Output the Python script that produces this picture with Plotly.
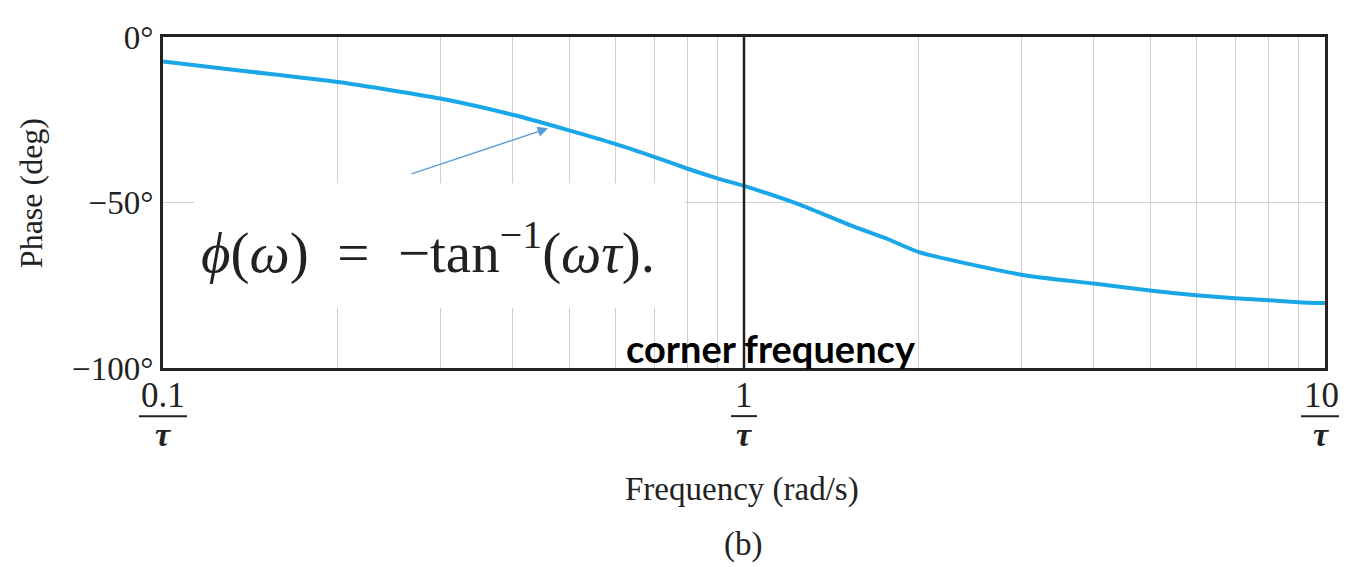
import math
import plotly.graph_objects as go

# phase curve
freq = [0.1, 0.14, 0.2, 0.3, 0.4, 0.5, 0.6, 0.7, 0.8, 0.9, 1.0,
        1.25, 1.53, 1.77, 2, 3, 4, 5, 6, 7, 8, 9, 10]
phase = [-7.4, -10.4, -13.6, -18.6, -23.5, -28.2, -32.3, -36.2, -39.8, -42.7, -45.0,
         -50.7, -57.0, -61.1, -65.0, -71.8, -74.5, -76.6, -78.0, -78.9, -79.5, -80.1, -80.4]

y_ticks = [-100, -50, 0]
y_labels = ["\u2212100°", "\u221250°", "0°"]
x_ticks = [0.1, 1, 10]
x_nums = ["0.1", "1", "10"]
bar_half = [24, 13, 20]  # half width of fraction bars, px
grid_freqs = [0.2, 0.3, 0.4, 0.5, 0.6, 0.7, 0.8, 0.9, 2, 3, 4, 5, 6, 7, 8, 9]

SERIF = "Liberation Serif"
INK = "#222"
OFF = 8  # page body margin
W, H = 1339, 559
L, R, T, B = 155, 22, 23, 199
PW, PH = W - L - R, H - T - B


def px(x):
    return (x - OFF - L) / PW


def py(y):
    return 1 - (y - OFF - T) / PH


def fx(f):
    # page pixel of a frequency, nudged left at the right edge so "10" is not cut
    return min(OFF + L + (math.log10(f) + 1) / 2 * PW, 1321)


fig = go.Figure()
fig.add_trace(go.Scatter(
    x=freq, y=phase, mode="lines",
    line=dict(color="#1aa7e8", width=4, shape="spline", smoothing=0.6),
    hoverinfo="skip",
))

fig.update_layout(
    width=W, height=H,
    margin=dict(l=L, r=R, t=T, b=B),
    paper_bgcolor="white", plot_bgcolor="white",
    showlegend=False,
    xaxis=dict(
        type="log", range=[-1, 1],
        tickvals=grid_freqs, showticklabels=False, ticks="",
        showgrid=True, gridcolor="#d0d0d0", gridwidth=1.2,
        showline=True, linecolor=INK, linewidth=3, mirror=True,
        zeroline=False,
    ),
    yaxis=dict(
        range=[-100, 0],
        tickvals=y_ticks, ticktext=y_labels,
        tickfont=dict(family=SERIF, size=33, color=INK),
        ticks="", ticklabelstandoff=0,
        showgrid=True, gridcolor="#d0d0d0", gridwidth=1.2,
        showline=True, linecolor=INK, linewidth=3, mirror=True,
        zeroline=False,
    ),
)

shapes = [
    # white box behind the formula
    dict(type="rect", xref="x", yref="y", x0=0.113, x1=0.79, y0=-81.9, y1=-44.2,
         fillcolor="white", line=dict(width=0), layer="between"),
    # corner frequency marker
    dict(type="line", xref="x", yref="y", x0=1, x1=1, y0=-100, y1=0,
         line=dict(color=INK, width=2.5), layer="above"),
]
annotations = []

# fraction tick labels  n / tau
for v, n, hw in zip(x_ticks, x_nums, bar_half):
    cx = fx(v)
    annotations.append(dict(x=px(cx), xref="paper", y=py(396), yref="paper", text=n,
                            showarrow=False, xanchor="center", yanchor="middle",
                            font=dict(family=SERIF, size=35, color=INK)))
    annotations.append(dict(x=px(cx), xref="paper", y=py(436), yref="paper",
                            text="<b><i>τ</i></b>", showarrow=False,
                            xanchor="center", yanchor="middle",
                            font=dict(family=SERIF, size=34, color=INK)))
    shapes.append(dict(type="line", xref="paper", yref="paper",
                       x0=px(cx - hw), x1=px(cx + hw),
                       y0=py(417), y1=py(417), line=dict(color=INK, width=2)))

annotations += [
    dict(x=px(428), xref="paper", y=-64.0, yref="y",
         text="<i>ϕ</i>(<i>ω</i>)  =  −tan<sup>−1</sup>(<i>ωτ</i>).",
         showarrow=False, xanchor="center",
         font=dict(family=SERIF, size=57, color=INK)),
    dict(x=px(771), xref="paper", y=py(373), yref="paper", text="<b>corner frequency</b>",
         showarrow=False, xanchor="center", yanchor="bottom",
         font=dict(family="Lato", size=38, color="black")),
    dict(x=math.log10(0.46), xref="x", y=-27.6, yref="y", ax=-138, ay=46, text="",
         showarrow=True, arrowhead=2, arrowsize=1.6, arrowwidth=1.3, arrowcolor="#5b9bd5"),
    dict(x=px(31), xref="paper", y=py(190), yref="paper", text="Phase (deg)", textangle=-90,
         showarrow=False, xanchor="center", yanchor="middle",
         font=dict(family=SERIF, size=32, color=INK)),
    dict(x=px(742), xref="paper", y=py(492), yref="paper", text="Frequency (rad/s)",
         showarrow=False, xanchor="center", yanchor="middle",
         font=dict(family=SERIF, size=33, color=INK)),
    dict(x=px(743), xref="paper", y=py(548), yref="paper", text="(b)",
         showarrow=False, xanchor="center", yanchor="middle",
         font=dict(family=SERIF, size=33, color=INK)),
]

fig.update_layout(shapes=shapes, annotations=annotations)
fig.write_html("out.html")
